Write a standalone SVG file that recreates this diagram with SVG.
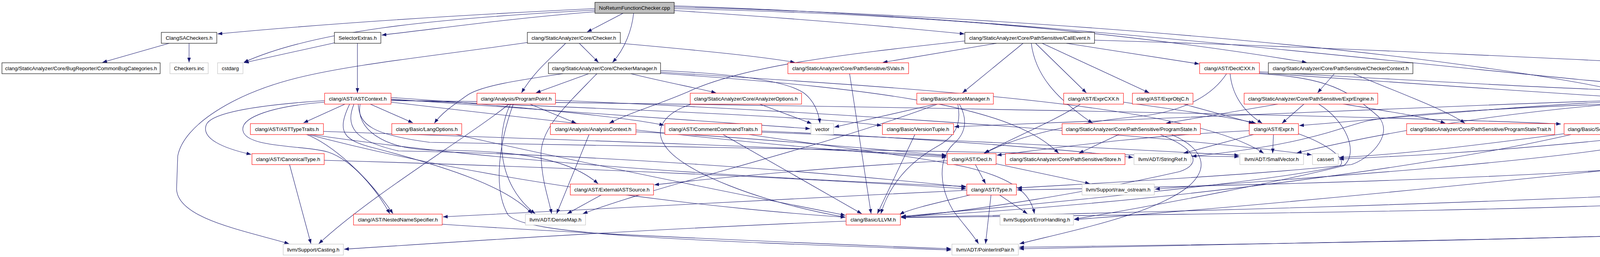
<svg xmlns="http://www.w3.org/2000/svg" width="5290" height="659" viewBox="0 0 5290 659">
<style>
.e{fill:none;stroke:#191970;stroke-width:1.1}
.n rect{fill:#fff;stroke-width:1.1}
.b rect{stroke:#000}
.r rect{stroke:#ff0000}
.g rect{stroke:#bfbfbf}
.root rect{fill:#bfbfbf;stroke:#000}
text{font-family:"Liberation Sans",Arial,Helvetica,sans-serif;font-size:13.3px;fill:#000;text-anchor:middle}
</style>
<defs>
<marker id="ah" viewBox="0 0 12 9" refX="12" refY="4.5" markerWidth="12" markerHeight="9" markerUnits="userSpaceOnUse" orient="auto"><path d="M0,0 L12,4.5 L0,9 z" fill="#191970"/></marker>
</defs>
<rect x="0" y="0" width="5290" height="659" fill="#fff"/>
<g id="edges">
<path class="e" marker-end="url(#ah)" d="M1523,22 C1150,40 820,62 557,87"/>
<path class="e" marker-end="url(#ah)" d="M1523,26 C1100,48 800,80 624,160"/>
<path class="e" marker-end="url(#ah)" d="M1523,30 C1300,48 1150,70 977,90"/>
<path class="e" marker-end="url(#ah)" d="M1595,34 L1503,82"/>
<path class="e" marker-end="url(#ah)" d="M1622,34 C1618,75 1600,125 1568,160"/>
<path class="e" marker-end="url(#ah)" d="M1726,27 C2000,45 2250,65 2469,87"/>
<path class="e" marker-end="url(#ah)" d="M1726,22 C2300,35 2800,70 3345,160"/>
<path class="e" marker-end="url(#ah)" d="M1726,18 C2600,40 3700,130 4200,244"/>
<path class="e" marker-end="url(#ah)" d="M1726,15 C2700,45 3700,180 4400,236 C4650,255 4850,290 4965,318"/>
<path class="e" marker-end="url(#ah)" d="M433,111 L262,160"/>
<path class="e" marker-end="url(#ah)" d="M484,111 L484,160"/>
<path class="e" marker-end="url(#ah)" d="M856,110 L625,161"/>
<path class="e" marker-end="url(#ah)" d="M915,111 L915,238"/>
<path class="e" marker-end="url(#ah)" d="M1448,111 C1410,150 1370,180 1335,238"/>
<path class="e" marker-end="url(#ah)" d="M1483,111 L1532,160"/>
<path class="e" marker-end="url(#ah)" d="M1588,111 C1800,130 1950,145 2035,160"/>
<path class="e" marker-end="url(#ah)" d="M1350,109 C1100,145 900,165 760,200 C600,240 470,320 455,400 L452,485 C455,560 620,590 740,625"/>
<path class="e" marker-end="url(#ah)" d="M1441,189 C1330,205 1230,220 1195,245 C1160,270 1130,290 1112,316"/>
<path class="e" marker-end="url(#ah)" d="M1507,189 L1372,238"/>
<path class="e" marker-end="url(#ah)" d="M1528,189 C1450,270 1382,330 1385,400 C1388,470 1405,510 1412,548"/>
<path class="e" marker-end="url(#ah)" d="M1615,189 C1700,210 1780,225 1833,238"/>
<path class="e" marker-end="url(#ah)" d="M1691,181 C1900,190 2020,210 2060,240 C2085,260 2096,290 2099,316"/>
<path class="e" marker-end="url(#ah)" d="M1691,185 C2400,230 3050,270 3235,393"/>
<path class="e" marker-end="url(#ah)" d="M1691,188 C2300,230 2600,280 2710,393"/>
<path class="e" marker-end="url(#ah)" d="M2551,111 L2260,160"/>
<path class="e" marker-end="url(#ah)" d="M2619,111 L2464,238"/>
<path class="e" marker-end="url(#ah)" d="M2470,105 C2150,140 1900,170 1760,236 C1680,270 1610,290 1560,316"/>
<path class="e" marker-end="url(#ah)" d="M2651,111 L2781,238"/>
<path class="e" marker-end="url(#ah)" d="M2668,111 L2942,238"/>
<path class="e" marker-end="url(#ah)" d="M2730,111 L3070,164"/>
<path class="e" marker-end="url(#ah)" d="M2640,111 C2650,190 2700,250 2797,316"/>
<path class="e" marker-end="url(#ah)" d="M2802,103 C3400,120 4200,160 4410,172 C4900,200 5218,250 5218,290 L5218,489 C5218,505 5290,512 5284,518 C5150,565 4800,590 4410,599 C3800,615 3000,630 2609,638"/>
<path class="e" marker-end="url(#ah)" d="M2175,189 L2230,548"/>
<path class="e" marker-end="url(#ah)" d="M3149,189 C3155,250 3190,290 3231,316"/>
<path class="e" marker-end="url(#ah)" d="M3140,189 C3100,250 3020,290 2900,300 C2750,315 2600,350 2521,393"/>
<path class="e" marker-end="url(#ah)" d="M3224,187 C3500,205 3900,235 4199,253"/>
<path class="e" marker-end="url(#ah)" d="M3224,189 C3400,200 3450,230 3530,300 C3570,350 3500,410 3459,422 C3200,450 2800,470 2604,482"/>
<path class="e" marker-end="url(#ah)" d="M3224,184 C3600,205 4200,240 4410,238 C4600,232 4800,215 4900,222 C5100,240 5169,300 5169,340 L5169,489 C5169,540 5000,570 4410,595 C3800,620 3000,628 2609,634"/>
<path class="e" marker-end="url(#ah)" d="M3416,189 L3373,238"/>
<path class="e" marker-end="url(#ah)" d="M3465,189 C3560,230 3700,280 3750,316"/>
<path class="e" marker-end="url(#ah)" d="M883,267 L777,315"/>
<path class="e" marker-end="url(#ah)" d="M948,267 L1057,315"/>
<path class="e" marker-end="url(#ah)" d="M831,258 C650,270 540,290 528,320 C515,355 570,380 643,396"/>
<path class="e" marker-end="url(#ah)" d="M831,262 C700,272 615,300 622,335 C630,380 780,372 840,390 C900,410 960,480 998,548"/>
<path class="e" marker-end="url(#ah)" d="M922,267 C910,330 980,380 1100,385 C1300,385 1450,400 1531,471"/>
<path class="e" marker-end="url(#ah)" d="M1001,250 C1300,270 1600,300 1700,321"/>
<path class="e" marker-end="url(#ah)" d="M1001,254 C1500,290 1900,320 2074,330"/>
<path class="e" marker-end="url(#ah)" d="M1001,256 C1600,280 2100,300 2257,322"/>
<path class="e" marker-end="url(#ah)" d="M1001,262 C1500,320 2100,390 2423,403"/>
<path class="e" marker-end="url(#ah)" d="M906,267 C885,320 900,360 1020,387 C1500,395 2100,440 2473,480"/>
<path class="e" marker-end="url(#ah)" d="M917,267 C920,320 950,345 1100,365 C1800,380 2800,390 3172,402"/>
<path class="e" marker-end="url(#ah)" d="M1001,258 C2000,268 3500,295 3996,318"/>
<path class="e" marker-end="url(#ah)" d="M895,267 C860,340 880,360 960,380 C1150,430 1300,480 1362,548"/>
<path class="e" marker-end="url(#ah)" d="M783,344 C850,370 940,450 1006,548"/>
<path class="e" marker-end="url(#ah)" d="M828,337 C1500,360 2100,380 2423,400"/>
<path class="e" marker-end="url(#ah)" d="M790,344 C1300,420 2000,460 2473,478"/>
<path class="e" marker-end="url(#ah)" d="M786,344 C1300,480 1900,540 2164,557"/>
<path class="e" marker-end="url(#ah)" d="M741,421 L796,625"/>
<path class="e" marker-end="url(#ah)" d="M830,411 C1500,430 2100,460 2473,484"/>
<path class="e" marker-end="url(#ah)" d="M1163,344 C1500,420 1900,500 2164,552"/>
<path class="e" marker-end="url(#ah)" d="M1132,575 C1500,600 2100,625 2435,638"/>
<path class="e" marker-end="url(#ah)" d="M1303,267 C1200,350 950,500 816,625"/>
<path class="e" marker-end="url(#ah)" d="M1307,267 C1270,340 1270,470 1370,548"/>
<path class="e" marker-end="url(#ah)" d="M1314,267 C1280,360 1260,480 1300,550 C1340,600 1700,615 2435,641"/>
<path class="e" marker-end="url(#ah)" d="M1357,267 L1475,316"/>
<path class="e" marker-end="url(#ah)" d="M1422,257 C2200,290 3000,350 3358,397"/>
<path class="e" marker-end="url(#ah)" d="M2395,267 L2136,326"/>
<path class="e" marker-end="url(#ah)" d="M2400,267 C2100,380 1700,470 1492,548"/>
<path class="e" marker-end="url(#ah)" d="M2452,267 C2462,320 2445,350 2400,375 C2320,420 2275,480 2255,548"/>
<path class="e" marker-end="url(#ah)" d="M2456,267 C2480,310 2470,345 2440,370 C2400,410 2405,480 2440,540 C2470,580 2490,600 2505,625"/>
<path class="e" marker-end="url(#ah)" d="M1945,267 L2078,317"/>
<path class="e" marker-end="url(#ah)" d="M1770,267 C1700,290 1675,330 1700,370 C1740,440 1950,520 2164,557"/>
<path class="e" marker-end="url(#ah)" d="M1851,345 L2206,548"/>
<path class="e" marker-end="url(#ah)" d="M1918,345 C2150,380 2350,400 2480,430 C2600,460 2640,500 2648,548"/>
<path class="e" marker-end="url(#ah)" d="M1950,339 C2500,360 3000,390 3172,398"/>
<path class="e" marker-end="url(#ah)" d="M1950,336 C2400,355 2800,390 2901,404"/>
<path class="e" marker-end="url(#ah)" d="M2342,345 L2246,548"/>
<path class="e" marker-end="url(#ah)" d="M2497,422 L2523,471"/>
<path class="e" marker-end="url(#ah)" d="M2550,420 L2790,471"/>
<path class="e" marker-end="url(#ah)" d="M2425,412 C2100,430 1800,460 1675,474"/>
<path class="e" marker-end="url(#ah)" d="M2559,500 L2630,548"/>
<path class="e" marker-end="url(#ah)" d="M2537,500 L2523,625"/>
<path class="e" marker-end="url(#ah)" d="M2483,500 C2400,520 2330,535 2303,550"/>
<path class="e" marker-end="url(#ah)" d="M2475,488 C2000,510 1500,540 1134,556"/>
<path class="e" marker-end="url(#ah)" d="M3260,345 L3258,393"/>
<path class="e" marker-end="url(#ah)" d="M3209,345 L3030,393"/>
<path class="e" marker-end="url(#ah)" d="M3198,335 C2900,350 2700,380 2552,398"/>
<path class="e" marker-end="url(#ah)" d="M3324,343 C3400,370 3450,410 3430,425 C3300,460 2700,520 2307,555"/>
<path class="e" marker-end="url(#ah)" d="M2864,345 L2762,393"/>
<path class="e" marker-end="url(#ah)" d="M2999,345 C3080,380 3100,430 3040,480 C2950,550 2750,590 2610,625"/>
<path class="e" marker-end="url(#ah)" d="M2970,345 C3060,380 3080,420 3020,440 C2800,490 2500,540 2307,557"/>
<path class="e" marker-end="url(#ah)" d="M3271,267 L2985,316"/>
<path class="e" marker-end="url(#ah)" d="M3338,267 L3282,316"/>
<path class="e" marker-end="url(#ah)" d="M3376,267 C3445,310 3480,390 3440,425 C3300,460 3000,520 2750,562"/>
<path class="e" marker-end="url(#ah)" d="M3434,266 C3550,285 3650,300 3700,316"/>
<path class="e" marker-end="url(#ah)" d="M2766,267 C2700,310 2600,350 2519,393"/>
<path class="e" marker-end="url(#ah)" d="M2876,262 C3000,280 3150,300 3215,316"/>
<path class="e" marker-end="url(#ah)" d="M3030,267 L3209,316"/>
<path class="e" marker-end="url(#ah)" d="M4230,267 L4132,316"/>
<path class="e" marker-end="url(#ah)" d="M4320,262 C4400,285 4460,300 4490,316"/>
<path class="e" marker-end="url(#ah)" d="M4320,258 C4450,275 4580,295 4645,316"/>
<path class="e" marker-end="url(#ah)" d="M4320,255 C4500,270 4680,295 4755,317"/>
<path class="e" marker-end="url(#ah)" d="M4320,252 C4600,265 4850,295 4966,318"/>
<path class="e" marker-end="url(#ah)" d="M4315,267 C4400,300 4470,380 4497,471"/>
<path class="e" marker-end="url(#ah)" d="M4201,257 C3900,270 3600,300 3326,322"/>
<path class="e" marker-end="url(#ah)" d="M4201,261 C3800,290 3500,350 3320,392"/>
<path class="e" marker-end="url(#ah)" d="M4201,263 C3900,275 3600,290 3500,310 C3420,330 3350,370 3051,401"/>
<path class="e" marker-end="url(#ah)" d="M4201,255 C3500,280 2700,310 2443,325"/>
<path class="e" marker-end="url(#ah)" d="M4255,267 C4240,320 4200,345 4100,360 C3800,390 3600,400 3428,408"/>
<path class="e" marker-end="url(#ah)" d="M4263,267 C4262,320 4240,360 4180,372 C3900,420 3300,460 2957,485"/>
<path class="e" marker-end="url(#ah)" d="M4275,267 C4320,320 4310,400 4250,422 C3800,470 3200,530 2750,563"/>
<path class="e" marker-end="url(#ah)" d="M4283,267 C4340,320 4340,390 4289,422 C3900,460 3000,480 2604,487"/>
<path class="e" marker-end="url(#ah)" d="M4320,259 C4600,290 4900,300 4900,340 C4880,400 4800,460 4578,502 C4200,540 3000,550 2307,558"/>
<path class="e" marker-end="url(#ah)" d="M4003,343 C3800,370 3600,395 3428,404"/>
<path class="e" marker-end="url(#ah)" d="M4022,345 C3700,420 3000,520 2307,556"/>
<path class="e" marker-end="url(#ah)" d="M4425,490 C3800,520 3000,545 2307,557"/>
<path class="e" marker-end="url(#ah)" d="M2166,567 C1600,590 1100,625 881,639"/>
<path class="e" marker-end="url(#ah)" d="M1539,500 L1452,548"/>
<path class="e" marker-end="url(#ah)" d="M1508,345 L1425,548"/>
<path class="e" marker-end="url(#ah)" d="M1628,338 C1900,350 2200,380 2423,398"/>
</g>
<g id="n0" class="n root"><rect x="1523" y="6" width="203" height="28"/><text x="1624.5" y="24.7">NoReturnFunctionChecker.cpp</text></g>
<g id="n_csa" class="n b"><rect x="413" y="83" width="142" height="28"/><text x="484" y="101.7">ClangSACheckers.h</text></g>
<g id="n_sel" class="n b"><rect x="856" y="83" width="119" height="28"/><text x="915.5" y="101.7">SelectorExtras.h</text></g>
<g id="n_chk" class="n b"><rect x="1350" y="83" width="238" height="28"/><text x="1469" y="101.7">clang/StaticAnalyzer/Core/Checker.h</text></g>
<g id="n_ce" class="n b"><rect x="2470" y="83" width="332" height="28"/><text x="2636" y="101.7">clang/StaticAnalyzer/Core/PathSensitive/CallEvent.h</text></g>
<g id="n_cbc" class="n b"><rect x="5" y="161" width="405" height="28"/><text x="207.5" y="179.7">clang/StaticAnalyzer/Core/BugReporter/CommonBugCategories.h</text></g>
<g id="n_cinc" class="n g"><rect x="435" y="161" width="98" height="28"/><text x="484" y="179.7">Checkers.inc</text></g>
<g id="n_cstd" class="n g"><rect x="557" y="161" width="65" height="28"/><text x="589.5" y="179.7">cstdarg</text></g>
<g id="n_cm" class="n b"><rect x="1404" y="161" width="287" height="28"/><text x="1547.5" y="179.7">clang/StaticAnalyzer/Core/CheckerManager.h</text></g>
<g id="n_sv" class="n r"><rect x="2017" y="161" width="309" height="28"/><text x="2171.5" y="179.7">clang/StaticAnalyzer/Core/PathSensitive/SVals.h</text></g>
<g id="n_dcxx" class="n r"><rect x="3071" y="161" width="153" height="28"/><text x="3147.5" y="179.7">clang/AST/DeclCXX.h</text></g>
<g id="n_cc" class="n b"><rect x="3247" y="161" width="370" height="28"/><text x="3432" y="179.7">clang/StaticAnalyzer/Core/PathSensitive/CheckerContext.h</text></g>
<g id="n_astc" class="n r"><rect x="831" y="239" width="170" height="28"/><text x="916" y="257.7">clang/AST/ASTContext.h</text></g>
<g id="n_pp" class="n r"><rect x="1221" y="239" width="201" height="28"/><text x="1321.5" y="257.7">clang/Analysis/ProgramPoint.h</text></g>
<g id="n_ao" class="n r"><rect x="1767" y="239" width="285" height="28"/><text x="1909.5" y="257.7">clang/StaticAnalyzer/Core/AnalyzerOptions.h</text></g>
<g id="n_sm" class="n r"><rect x="2347" y="239" width="196" height="28"/><text x="2445" y="257.7">clang/Basic/SourceManager.h</text></g>
<g id="n_ecxx" class="n r"><rect x="2723" y="239" width="153" height="28"/><text x="2799.5" y="257.7">clang/AST/ExprCXX.h</text></g>
<g id="n_eobj" class="n r"><rect x="2899" y="239" width="155" height="28"/><text x="2976.5" y="257.7">clang/AST/ExprObjC.h</text></g>
<g id="n_ee" class="n r"><rect x="3185" y="239" width="342" height="28"/><text x="3356" y="257.7">clang/StaticAnalyzer/Core/PathSensitive/ExprEngine.h</text></g>
<g id="n_attr" class="n b"><rect x="4201" y="239" width="119" height="28"/><text x="4260.5" y="257.7">clang/AST/Attr.h</text></g>
<g id="n_att" class="n r"><rect x="641" y="317" width="187" height="28"/><text x="734.5" y="335.7">clang/AST/ASTTypeTraits.h</text></g>
<g id="n_lo" class="n r"><rect x="1003" y="317" width="179" height="28"/><text x="1092.5" y="335.7">clang/Basic/LangOptions.h</text></g>
<g id="n_ac" class="n r"><rect x="1409" y="317" width="219" height="28"/><text x="1518.5" y="335.7">clang/Analysis/AnalysisContext.h</text></g>
<g id="n_cct" class="n r"><rect x="1702" y="317" width="248" height="28"/><text x="1826" y="335.7">clang/AST/CommentCommandTraits.h</text></g>
<g id="n_vec" class="n g"><rect x="2076" y="317" width="58" height="28"/><text x="2105" y="335.7">vector</text></g>
<g id="n_vt" class="n r"><rect x="2259" y="317" width="182" height="28"/><text x="2350" y="335.7">clang/Basic/VersionTuple.h</text></g>
<g id="n_ps" class="n r"><rect x="2719" y="317" width="354" height="28"/><text x="2896" y="335.7">clang/StaticAnalyzer/Core/PathSensitive/ProgramState.h</text></g>
<g id="n_expr" class="n r"><rect x="3198" y="317" width="126" height="28"/><text x="3261" y="335.7">clang/AST/Expr.h</text></g>
<g id="n_pst" class="n r"><rect x="3601" y="317" width="379" height="28"/><text x="3790.5" y="335.7">clang/StaticAnalyzer/Core/PathSensitive/ProgramStateTrait.h</text></g>
<g id="n_sl" class="n r"><rect x="4004" y="317" width="194" height="28"/><text x="4101" y="335.7">clang/Basic/SourceLocation.h</text></g>
<g id="n_ak" class="n r"><rect x="4475" y="317" width="159" height="28"/><text x="4554.5" y="335.7">clang/Basic/AttrKinds.h</text></g>
<g id="n_alg" class="n g"><rect x="4657" y="317" width="75" height="28"/><text x="4694.5" y="335.7">algorithm</text></g>
<g id="n_ainc" class="n g"><rect x="4756" y="317" width="136" height="28"/><text x="4824" y="335.7">clang/AST/Attrs.inc</text></g>
<g id="n_ss" class="n g"><rect x="4966" y="317" width="167" height="28"/><text x="5049.5" y="335.7">llvm/ADT/StringSwitch.h</text></g>
<g id="n_ct" class="n r"><rect x="645" y="394" width="185" height="28"/><text x="737.5" y="412.7">clang/AST/CanonicalType.h</text></g>
<g id="n_decl" class="n r"><rect x="2425" y="394" width="125" height="28"/><text x="2487.5" y="412.7">clang/AST/Decl.h</text></g>
<g id="n_st" class="n r"><rect x="2574" y="394" width="306" height="28"/><text x="2727" y="412.7">clang/StaticAnalyzer/Core/PathSensitive/Store.h</text></g>
<g id="n_sr" class="n g"><rect x="2903" y="394" width="146" height="28"/><text x="2976" y="412.7">llvm/ADT/StringRef.h</text></g>
<g id="n_svec" class="n g"><rect x="3174" y="394" width="163" height="28"/><text x="3255.5" y="412.7">llvm/ADT/SmallVector.h</text></g>
<g id="n_cas" class="n g"><rect x="3360" y="394" width="66" height="28"/><text x="3393" y="412.7">cassert</text></g>
<g id="n_eas" class="n r"><rect x="1460" y="472" width="213" height="28"/><text x="1566.5" y="490.7">clang/AST/ExternalASTSource.h</text></g>
<g id="n_type" class="n r"><rect x="2475" y="472" width="127" height="28"/><text x="2538.5" y="490.7">clang/AST/Type.h</text></g>
<g id="n_raw" class="n g"><rect x="2770" y="472" width="185" height="28"/><text x="2862.5" y="490.7">llvm/Support/raw_ostream.h</text></g>
<g id="n_ai" class="n r"><rect x="4425" y="472" width="161" height="28"/><text x="4505.5" y="490.7">clang/AST/AttrIterator.h</text></g>
<g id="n_nns" class="n r"><rect x="905" y="549" width="227" height="28"/><text x="1018.5" y="567.7">clang/AST/NestedNameSpecifier.h</text></g>
<g id="n_dm" class="n g"><rect x="1345" y="549" width="154" height="28"/><text x="1422" y="567.7">llvm/ADT/DenseMap.h</text></g>
<g id="n_llvm" class="n r"><rect x="2166" y="549" width="139" height="28"/><text x="2235.5" y="567.7">clang/Basic/LLVM.h</text></g>
<g id="n_eh" class="n g"><rect x="2560" y="549" width="188" height="28"/><text x="2654" y="567.7">llvm/Support/ErrorHandling.h</text></g>
<g id="n_cast" class="n g"><rect x="725" y="626" width="154" height="28"/><text x="802" y="644.7">llvm/Support/Casting.h</text></g>
<g id="n_pip" class="n g"><rect x="2437" y="626" width="170" height="28"/><text x="2522" y="644.7">llvm/ADT/PointerIntPair.h</text></g>
</svg>
